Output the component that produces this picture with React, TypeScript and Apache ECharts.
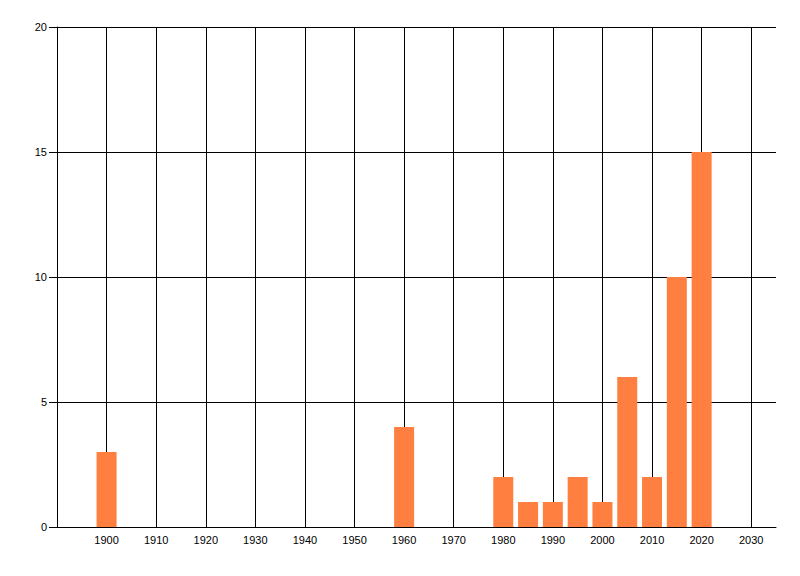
import React, { useEffect, useRef } from 'react';
import * as echarts from 'echarts';

const years = [1900, 1960, 1980, 1985, 1990, 1995, 2000, 2005, 2010, 2015, 2020];
const counts = [3, 4, 2, 1, 1, 2, 1, 6, 2, 10, 15];

const App: React.FC = () => {
  const chartRef = useRef<HTMLDivElement>(null);

  useEffect(() => {
    if (!chartRef.current) return;
    const chart = echarts.init(chartRef.current, null, { renderer: 'svg' });

    const labelStyle = {
      color: '#000',
      fontSize: 11,
      fontFamily: '"Liberation Sans", Arial, sans-serif'
    };

    chart.setOption({
      animation: false,
      backgroundColor: '#fff',
      grid: { left: 57, right: 24, top: 27, bottom: 49, containLabel: false },
      xAxis: {
        type: 'value',
        min: 1890,
        max: 2035,
        interval: 10,
        axisLine: { show: true, lineStyle: { color: '#000', width: 1 } },
        axisTick: { show: false },
        axisLabel: {
          ...labelStyle,
          margin: 7,
          showMinLabel: false,
          showMaxLabel: false,
          formatter: (v: number) => String(v)
        },
        splitLine: {
          show: true,
          showMaxLine: false,
          lineStyle: { color: '#000', width: 1 }
        }
      },
      yAxis: {
        type: 'value',
        min: 0,
        max: 20,
        interval: 5,
        axisLine: { show: true, lineStyle: { color: '#000', width: 1 } },
        axisTick: { show: true, length: 8, lineStyle: { color: '#000' } },
        axisLabel: { ...labelStyle, margin: 10 },
        splitLine: { show: true, lineStyle: { color: '#000', width: 1 } }
      },
      series: [
        {
          type: 'bar',
          data: years.map((y, i) => [y, counts[i]]),
          barWidth: 20,
          itemStyle: { color: '#ff7f40' }
        }
      ]
    });

    return () => {
      chart.dispose();
    };
  }, []);

  return (
    <div
      ref={chartRef}
      style={{ position: 'absolute', left: 0, top: 0, width: 800, height: 576 }}
    />
  );
};

export default App;
